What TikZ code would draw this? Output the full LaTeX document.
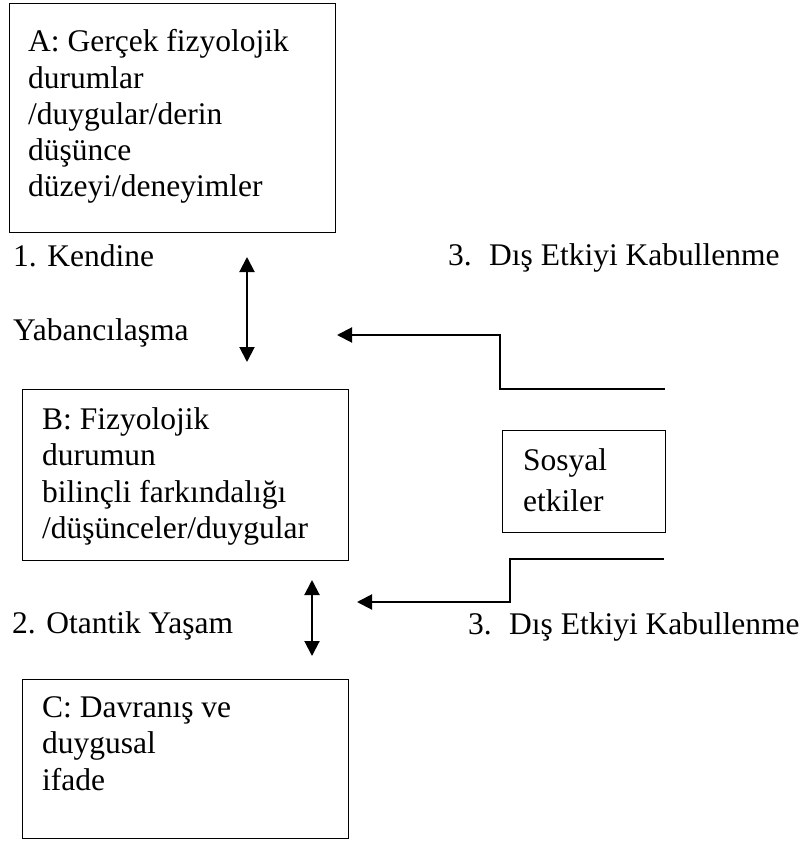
\documentclass[tikz,border=0pt]{standalone}
\usepackage{fontspec}
\setmainfont{Liberation Serif}
\usetikzlibrary{arrows.meta}

\begin{document}
\begin{tikzpicture}
  [x=1pt,y=-1pt,
   every node/.style={font=\fontsize{31.5}{36}\selectfont},
   lbl/.style={anchor=base west,inner sep=0pt},
   box/.style={draw,line width=1.4pt,anchor=north west,inner sep=0pt},
   conn/.style={line width=2pt,-{Triangle[length=15pt,width=15pt]}},
   both/.style={line width=2pt,{Triangle[length=15pt,width=15pt]}-{Triangle[length=15pt,width=15pt]}}]

  \useasboundingbox (0,0) rectangle (806,842);

  % boxes
  \node[box,minimum width=326pt,minimum height=229pt] (a) at (9,3) {};
  \node[box,minimum width=326pt,minimum height=171pt] (b) at (22,389) {};
  \node[box,minimum width=326pt,minimum height=159pt] (c) at (22,679) {};
  \node[box,minimum width=163pt,minimum height=102pt] (sosyal) at (502,430) {};

  % box texts
  \foreach \txt [count=\i] in {A: Gerçek fizyolojik,durumlar,/duygular/derin,düşünce,düzeyi/deneyimler}
    \node[lbl] (a\i) at (28,52+36.25*\i-36.25) {\txt};
  \foreach \txt [count=\i] in {B: Fizyolojik,durumun,bilinçli farkındalığı,/düşünceler/duygular}
    \node[lbl] (b\i) at (42,429.5+36.25*\i-36.25) {\txt};
  \foreach \txt [count=\i] in {C: Davranış ve,duygusal,ifade}
    \node[lbl] (c\i) at (42,717+36.5*\i-36.5) {\txt};
  \node[lbl] (sos1) at (523,470.5) {Sosyal};
  \node[lbl] (sos2) at (523,511.7) {etkiler};

  % side labels
  \node[lbl] (kendine) at (13,266) {1. Kendine};
  \node[lbl] (yabanci) at (13,340) {Yabancılaşma};
  \node[lbl] (otantik) at (12,633) {2. Otantik Yaşam};
  \node[lbl] (dis1) at (448,265) {3.\hspace{0.55em}Dış Etkiyi Kabullenme};
  \node[lbl] (dis2) at (468,634) {3.\hspace{0.55em}Dış Etkiyi Kabullenme};

  % arrows
  \coordinate (u1) at (247,257);
  \coordinate (d1) at (247,362);
  \coordinate (u2) at (312,580);
  \coordinate (d2) at (312,656);
  \coordinate (s1) at (665,389);
  \coordinate (t1) at (337,335);
  \coordinate (s2) at (664,559);
  \coordinate (t2) at (357,602);

  \foreach \from/\to in {u1/d1,u2/d2}
    \draw[both] (\from) -- (\to);
  \draw[conn] (s1) -- (500,389) |- (t1);
  \draw[conn] (s2) -- (510,559) |- (t2);
\end{tikzpicture}
\end{document}
